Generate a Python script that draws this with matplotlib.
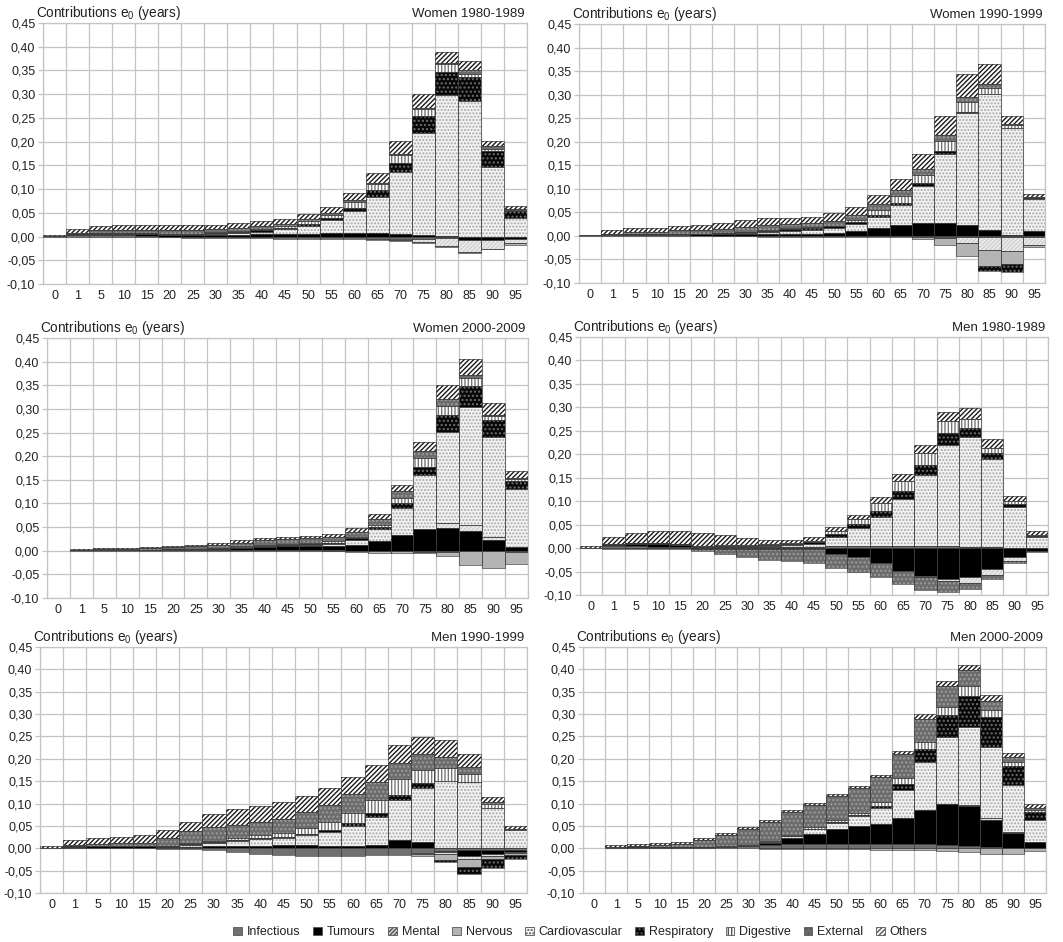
import numpy as np
import matplotlib
matplotlib.use('Agg')
import matplotlib.pyplot as plt
from matplotlib.patches import Patch
from matplotlib.ticker import FuncFormatter

plt.rcParams['font.family'] = ['Liberation Sans', 'DejaVu Sans']
plt.rcParams['mathtext.fontset'] = 'custom'
plt.rcParams['mathtext.rm'] = 'Liberation Sans'
plt.rcParams['hatch.linewidth'] = 1.0

AGES = ['0', '1', '5', '10', '15', '20', '25', '30', '35', '40', '45',
        '50', '55', '60', '65', '70', '75', '80', '85', '90', '95']
CAUSES = ['Infectious', 'Tumours', 'Mental', 'Nervous', 'Cardiovascular',
          'Respiratory', 'Digestive', 'External', 'Others']

# Women 1980-1989
W80_INF = [0.001, 0.003, 0.003, 0.003, 0.002, -0.002, -0.003, -0.004, -0.004, -0.004, -0.005,
           -0.005, -0.006, -0.006, -0.006, -0.006, -0.005, -0.003, -0.002, -0.002, -0.002]
W80_TUM = [0, 0.002, 0.003, 0.003, 0.003, 0.004, 0.004, 0.004, 0.004, 0.005, 0.005,
           0.006, 0.007, 0.007, 0.007, 0.005, 0.003, 0.002, -0.006, -0.006, -0.004]
W80_MEN = [0, 0, 0, 0, 0, 0, 0, 0, 0, 0, 0,
           0, 0, 0, 0, -0.002, -0.006, -0.017, -0.024, -0.018, -0.008]
W80_NER = [0, 0, 0, 0, 0, 0, 0, 0, 0, 0, 0,
           0, 0, 0, -0.001, -0.002, -0.003, -0.003, -0.002, -0.001, -0.003]
W80_CAR = [0, 0, 0.001, 0.001, 0.001, 0.001, 0.001, 0.002, 0.003, 0.005, 0.010,
           0.017, 0.027, 0.046, 0.077, 0.130, 0.215, 0.296, 0.285, 0.147, 0.040]
W80_RES = [0, 0, 0.001, 0.001, 0.001, 0.001, 0.001, 0.002, 0.002, 0.003, 0.004,
           0.003, 0.005, 0.007, 0.014, 0.021, 0.035, 0.049, 0.051, 0.033, 0.014]
W80_DIG = [0, 0, 0, 0, 0, 0, 0, 0.001, 0.002, 0.003, 0.003,
           0.006, 0.006, 0.012, 0.012, 0.016, 0.016, 0.016, 0.007, 0.004, 0.002]
W80_EXT = [0, 0.002, 0.005, 0.005, 0.006, 0.008, 0.008, 0.007, 0.007, 0.007, 0.005,
           0.004, 0.004, 0.004, 0.003, 0.002, 0.002, 0.002, 0.009, 0.006, 0.002]
W80_OTH = [0.002, 0.009, 0.010, 0.011, 0.011, 0.010, 0.010, 0.009, 0.010, 0.009, 0.009,
           0.011, 0.014, 0.015, 0.021, 0.027, 0.029, 0.023, 0.018, 0.011, 0.007]

# Women 1990-1999
W90_INF = [0, 0.001, 0.001, 0.001, 0.001, 0, -0.001, -0.001, -0.002, -0.002, -0.002,
           -0.002, -0.002, -0.002, -0.003, -0.003, -0.003, -0.002, -0.002, -0.002, -0.003]
W90_TUM = [0, 0, 0.001, 0.001, 0.002, 0.003, 0.003, 0.003, 0.004, 0.004, 0.005,
           0.006, 0.010, 0.017, 0.023, 0.028, 0.028, 0.024, 0.013, 0.002, 0.011]
W90_MEN = [0, 0, 0, 0, 0, 0, 0, 0, 0, 0, 0,
           0, 0, 0, 0, 0, -0.001, -0.013, -0.027, -0.030, -0.016]
W90_NER = [0, 0, 0, 0, 0, 0, 0, 0, 0, 0, 0,
           0, 0, 0, 0, -0.004, -0.016, -0.027, -0.035, -0.028, -0.004]
W90_CAR = [0, 0, 0, 0, 0.001, 0.001, 0.002, 0.003, 0.004, 0.006, 0.007,
           0.011, 0.015, 0.023, 0.043, 0.078, 0.147, 0.238, 0.289, 0.228, 0.067]
W90_RES = [0, 0.001, 0.001, 0.001, 0.001, 0.001, 0.001, 0.002, 0.003, 0.004, 0.004,
           0.003, 0.004, 0.004, 0.004, 0.006, 0.006, 0.001, -0.010, -0.017, 0.002]
W90_DIG = [0, 0, 0, 0, 0, 0, 0.001, 0.001, 0.002, 0.002, 0.002,
           0.002, 0.004, 0.011, 0.014, 0.018, 0.020, 0.021, 0.013, 0.006, 0]
W90_EXT = [0.001, 0.003, 0.006, 0.006, 0.007, 0.008, 0.008, 0.010, 0.010, 0.010, 0.009,
           0.010, 0.012, 0.012, 0.013, 0.013, 0.014, 0.011, 0.007, 0.002, 0.002]
W90_OTH = [0.001, 0.007, 0.008, 0.008, 0.009, 0.011, 0.013, 0.014, 0.014, 0.013, 0.014,
           0.016, 0.017, 0.019, 0.023, 0.030, 0.040, 0.048, 0.043, 0.017, 0.008]

# Women 2000-2009
W00_INF = [0, 0.001, 0.001, 0.001, 0.001, 0.001, 0.001, 0.001, 0.001, 0.001, 0.001,
           0.001, 0.001, 0, -0.001, -0.001, -0.002, -0.002, -0.001, -0.001, -0.002]
W00_TUM = [0, 0, 0.001, 0.001, 0.001, 0.002, 0.002, 0.003, 0.005, 0.006, 0.008,
           0.008, 0.008, 0.012, 0.020, 0.033, 0.045, 0.048, 0.042, 0.022, 0.007]
W00_MEN = [0, 0, 0, 0, 0, 0, 0, 0, 0, 0, 0,
           0, 0, 0, 0, 0, 0.002, 0.010, 0.012, 0.007, 0]
W00_NER = [0, 0, 0, 0, 0, 0, 0, 0, 0, 0, 0,
           0, -0.001, -0.002, -0.003, -0.003, -0.003, -0.010, -0.029, -0.036, -0.026]
W00_CAR = [0, 0, 0, 0, 0, 0, 0.001, 0.001, 0.002, 0.002, 0.002,
           0.004, 0.006, 0.010, 0.026, 0.058, 0.113, 0.194, 0.250, 0.211, 0.123]
W00_RES = [0, 0, 0, 0, 0, 0, 0, 0, 0, 0.001, 0.001,
           0.001, 0.002, 0.004, 0.004, 0.009, 0.018, 0.035, 0.045, 0.037, 0.017]
W00_DIG = [0, 0, 0, 0, 0, 0, 0, 0.001, 0.001, 0.002, 0.002,
           0.002, 0.003, 0.004, 0.004, 0.011, 0.018, 0.020, 0.017, 0.009, 0.005]
W00_EXT = [0, 0.001, 0.002, 0.002, 0.003, 0.005, 0.006, 0.007, 0.008, 0.010, 0.011,
           0.011, 0.010, 0.010, 0.014, 0.015, 0.014, 0.013, 0.006, 0.002, 0.001]
W00_OTH = [0, 0.002, 0.002, 0.002, 0.003, 0.003, 0.003, 0.004, 0.005, 0.005, 0.005,
           0.005, 0.006, 0.008, 0.010, 0.013, 0.021, 0.030, 0.033, 0.024, 0.016]

# Men 1980-1989
M80_INF = [0.001, 0.004, 0.004, 0.003, 0.002, 0.002, 0.002, 0.002, 0.002, 0.003, 0.003,
           0.004, 0.005, 0.005, 0.005, 0.005, 0.004, 0.003, 0.002, 0.001, 0.001]
M80_TUM = [0, 0.002, 0.004, 0.005, 0.004, -0.001, -0.001, -0.002, -0.002, -0.002, -0.003,
           -0.013, -0.020, -0.032, -0.048, -0.060, -0.065, -0.062, -0.045, -0.020, -0.006]
M80_MEN = [0, 0, 0, 0, 0, 0, 0, 0, 0, 0, 0,
           0, 0, 0, 0, -0.001, -0.006, -0.012, -0.012, -0.007, -0.001]
M80_NER = [0, 0, 0, 0, 0, 0, 0, 0, 0, 0, 0,
           0, 0, 0, 0, 0, 0, 0, 0, 0, 0]
M80_CAR = [0, 0, 0, 0, 0.001, 0.001, 0.001, 0.001, 0.002, 0.003, 0.006,
           0.020, 0.037, 0.062, 0.099, 0.150, 0.215, 0.233, 0.187, 0.086, 0.022]
M80_RES = [0, 0.002, 0.002, 0.002, 0.002, 0.002, 0.002, 0.002, 0.002, 0.002, 0.003,
           0.006, 0.010, 0.013, 0.017, 0.022, 0.026, 0.020, 0.013, 0.008, 0.003]
M80_DIG = [0, 0, 0, 0, 0, 0, 0.001, 0.002, 0.002, 0.002, 0.003,
           0.007, 0.010, 0.017, 0.022, 0.026, 0.025, 0.020, 0.011, 0.005, 0.002]
M80_EXT = [0, -0.003, -0.003, -0.003, -0.003, -0.005, -0.012, -0.018, -0.023, -0.025, -0.029,
           -0.030, -0.032, -0.029, -0.029, -0.029, -0.022, -0.013, -0.008, -0.004, -0.002]
M80_OTH = [0.004, 0.015, 0.022, 0.027, 0.027, 0.027, 0.022, 0.014, 0.010, 0.008, 0.008,
           0.007, 0.008, 0.012, 0.016, 0.016, 0.021, 0.023, 0.020, 0.012, 0.008]

# Men 1990-1999
M90_INF = [0, 0.001, 0.001, 0.001, 0.001, -0.001, -0.002, -0.004, -0.008, -0.013, -0.015,
           -0.017, -0.017, -0.017, -0.016, -0.014, -0.010, -0.006, -0.003, -0.003, -0.003]
M90_TUM = [0, 0.002, 0.003, 0.003, 0.003, 0.003, 0.003, 0.004, 0.005, 0.006, 0.007,
           0.007, 0.006, 0.005, 0.008, 0.018, 0.015, -0.002, -0.015, -0.010, -0.006]
M90_MEN = [0, 0, 0, 0, 0, 0, 0, 0, 0, 0, 0,
           0, 0, 0, 0, 0, -0.003, -0.004, -0.005, -0.005, -0.002]
M90_NER = [0, 0, 0, 0, 0, 0, 0, 0, 0, 0, 0,
           0, 0, 0, 0, 0, -0.005, -0.015, -0.019, -0.007, -0.004]
M90_CAR = [0, 0, 0, 0, 0, 0.001, 0.004, 0.007, 0.011, 0.014, 0.016,
           0.022, 0.030, 0.044, 0.061, 0.089, 0.120, 0.150, 0.148, 0.090, 0.040]
M90_RES = [0, 0.001, 0.001, 0.001, 0.001, 0.001, 0.002, 0.004, 0.003, 0.002, 0.003,
           0.003, 0.005, 0.007, 0.010, 0.013, 0.010, -0.003, -0.015, -0.018, -0.009]
M90_DIG = [0, 0, 0, 0, 0, 0.001, 0.002, 0.002, 0.003, 0.007, 0.008,
           0.013, 0.018, 0.023, 0.029, 0.035, 0.030, 0.029, 0.017, 0.008, 0.002]
M90_EXT = [0.001, 0.004, 0.005, 0.006, 0.007, 0.018, 0.027, 0.030, 0.031, 0.030, 0.032,
           0.036, 0.038, 0.042, 0.041, 0.035, 0.035, 0.025, 0.016, 0.005, 0.002]
M90_OTH = [0.003, 0.010, 0.014, 0.015, 0.017, 0.016, 0.020, 0.030, 0.035, 0.036, 0.037,
           0.035, 0.037, 0.038, 0.038, 0.041, 0.039, 0.037, 0.029, 0.011, 0.005]

# Men 2000-2009
M00_INF = [0, 0.001, 0.001, 0.001, 0.001, 0.001, 0.002, 0.004, 0.008, 0.010, 0.010,
           0.010, 0.010, 0.010, 0.010, 0.010, 0.008, 0.005, 0.003, 0.001, 0.001]
M00_TUM = [0, 0, 0.001, 0.001, 0.001, 0.001, 0.001, 0.002, 0.004, 0.012, 0.022,
           0.032, 0.039, 0.045, 0.057, 0.076, 0.092, 0.089, 0.061, 0.033, 0.012]
M00_MEN = [0, 0, 0, 0, 0, 0, 0, 0, 0, 0, 0,
           0, 0, 0, 0, 0, 0, 0.002, 0.003, 0.002, 0.001]
M00_NER = [0, 0, 0, 0, 0, 0, 0, 0, -0.001, -0.002, -0.002,
           -0.002, -0.002, -0.003, -0.003, -0.003, -0.005, -0.008, -0.013, -0.012, -0.006]
M00_CAR = [0, 0, 0, 0, 0, 0, 0, 0.001, 0.002, 0.005, 0.010,
           0.015, 0.023, 0.035, 0.063, 0.107, 0.148, 0.176, 0.160, 0.105, 0.049]
M00_RES = [0, 0, 0, 0, 0, 0, 0, 0, 0, 0.001, 0.001,
           0.001, 0.002, 0.005, 0.014, 0.029, 0.049, 0.069, 0.066, 0.042, 0.018]
M00_DIG = [0, 0, 0, 0, 0, 0, 0.001, 0.001, 0.002, 0.002, 0.004,
           0.005, 0.005, 0.009, 0.013, 0.016, 0.019, 0.022, 0.017, 0.010, 0.005]
M00_EXT = [0, 0.002, 0.003, 0.005, 0.008, 0.017, 0.025, 0.035, 0.042, 0.050, 0.049,
           0.053, 0.056, 0.055, 0.053, 0.052, 0.046, 0.035, 0.020, 0.011, 0.005]
M00_OTH = [0, 0.005, 0.004, 0.004, 0.004, 0.004, 0.005, 0.005, 0.006, 0.005, 0.006,
           0.006, 0.005, 0.005, 0.007, 0.010, 0.013, 0.012, 0.012, 0.009, 0.007]

# facecolour, hatch, hatch colour for each cause
STYLES = [
    ('#707070', '', '#707070'),
    ('#000000', '', '#000000'),
    ('#d2d2d2', '////////', '#eeeeee'),
    ('#b4b4b4', '', '#b4b4b4'),
    ('#f3f3f3', '.....', '#a8a8a8'),
    ('#080808', '....', '#6e6e6e'),
    ('#ffffff', '|||||', '#777777'),
    ('#6c6c6c', '....', '#9c9c9c'),
    ('#ffffff', '///////', '#1a1a1a'),
]

W, H = 1063, 942


def rect(left, right, top, bottom):
    """Axes rectangle from pixel edges."""
    return [left / W, 1 - bottom / H, (right - left) / W, (bottom - top) / H]


PANELS = [
    ('Women 1980-1989', [W80_INF, W80_TUM, W80_MEN, W80_NER, W80_CAR,
                         W80_RES, W80_DIG, W80_EXT, W80_OTH],
     rect(43, 527, 23, 284)),
    ('Women 1990-1999', [W90_INF, W90_TUM, W90_MEN, W90_NER, W90_CAR,
                         W90_RES, W90_DIG, W90_EXT, W90_OTH],
     rect(579, 1045, 24, 283)),
    ('Women 2000-2009', [W00_INF, W00_TUM, W00_MEN, W00_NER, W00_CAR,
                         W00_RES, W00_DIG, W00_EXT, W00_OTH],
     rect(47, 528, 338, 598)),
    ('Men 1980-1989', [M80_INF, M80_TUM, M80_MEN, M80_NER, M80_CAR,
                       M80_RES, M80_DIG, M80_EXT, M80_OTH],
     rect(580, 1048, 337, 595)),
    ('Men 1990-1999', [M90_INF, M90_TUM, M90_MEN, M90_NER, M90_CAR,
                       M90_RES, M90_DIG, M90_EXT, M90_OTH],
     rect(40, 527, 647, 893)),
    ('Men 2000-2009', [M00_INF, M00_TUM, M00_MEN, M00_NER, M00_CAR,
                       M00_RES, M00_DIG, M00_EXT, M00_OTH],
     rect(583, 1046, 647, 893)),
]

GRID = '#c4c4c4'
TEXT = '#222222'


def draw_panel(ax, title, series):
    """Stacked bars with positive and negative parts stacked apart."""
    x = np.arange(len(AGES))
    pos_base = np.zeros(len(AGES))
    neg_base = np.zeros(len(AGES))
    for vals, (face, hatch, hcol) in zip(series, STYLES):
        v = np.asarray(vals, dtype=float)
        bottom = np.where(v >= 0, pos_base, neg_base)
        m = v != 0
        if m.any():
            ax.bar(x[m], v[m], width=1.0, bottom=bottom[m], color=face,
                   hatch=hatch, edgecolor=hcol, linewidth=0, zorder=2)
            ax.bar(x[m], v[m], width=1.0, bottom=bottom[m], fill=False,
                   edgecolor='#404040', linewidth=0.5, zorder=3)
        pos_base += np.where(v > 0, v, 0)
        neg_base += np.where(v < 0, v, 0)

    ax.set_xlim(-0.5, len(AGES) - 0.5)
    ax.set_ylim(-0.10, 0.45)
    ax.set_yticks(np.arange(-0.10, 0.4501, 0.05))
    ax.yaxis.set_major_formatter(
        FuncFormatter(lambda v, _: f'{v:.2f}'.replace('.', ',').replace('-0,00', '0,00')))
    ax.set_xticks(x)
    ax.set_xticklabels(AGES)
    ax.set_xticks(np.arange(-0.5, len(AGES), 1.0), minor=True)
    ax.set_axisbelow(True)
    ax.yaxis.grid(True, color=GRID, linewidth=0.9)
    ax.xaxis.grid(True, which='minor', color=GRID, linewidth=0.9)
    ax.xaxis.grid(False, which='major')
    ax.tick_params(axis='x', which='both', length=0, pad=4,
                   labelsize=9, labelcolor=TEXT)
    ax.tick_params(axis='y', length=3.5, width=0.9, color=GRID, pad=2,
                   labelsize=9, labelcolor=TEXT)
    for sp in ax.spines.values():
        sp.set_color(GRID)
        sp.set_linewidth(0.9)

    ax.annotate('Contributions e$_0$ (years)', xy=(0, 1), xycoords='axes fraction',
                xytext=(-5, 4.5), textcoords='offset points', ha='left',
                va='baseline', fontsize=9.8, color=TEXT)
    ax.annotate(title, xy=(1, 1), xycoords='axes fraction',
                xytext=(-2, 4.5), textcoords='offset points', ha='right',
                va='baseline', fontsize=9.5, color=TEXT)


fig = plt.figure(figsize=(W / 100, H / 100), dpi=100)
for title, series, pos in PANELS:
    ax = fig.add_axes(pos)
    draw_panel(ax, title, series)

handles = [Patch(facecolor=face, hatch=hatch, edgecolor='#555555', linewidth=0.6)
           for face, hatch, _ in STYLES]
fig.legend(handles, CAUSES, loc='lower center', bbox_to_anchor=(0.546, -0.008),
           ncol=9, frameon=False, fontsize=9, handlelength=0.7,
           handleheight=0.7, handletextpad=0.4, columnspacing=1.0,
           labelcolor=TEXT)

fig.savefig('out.png', dpi=100)
